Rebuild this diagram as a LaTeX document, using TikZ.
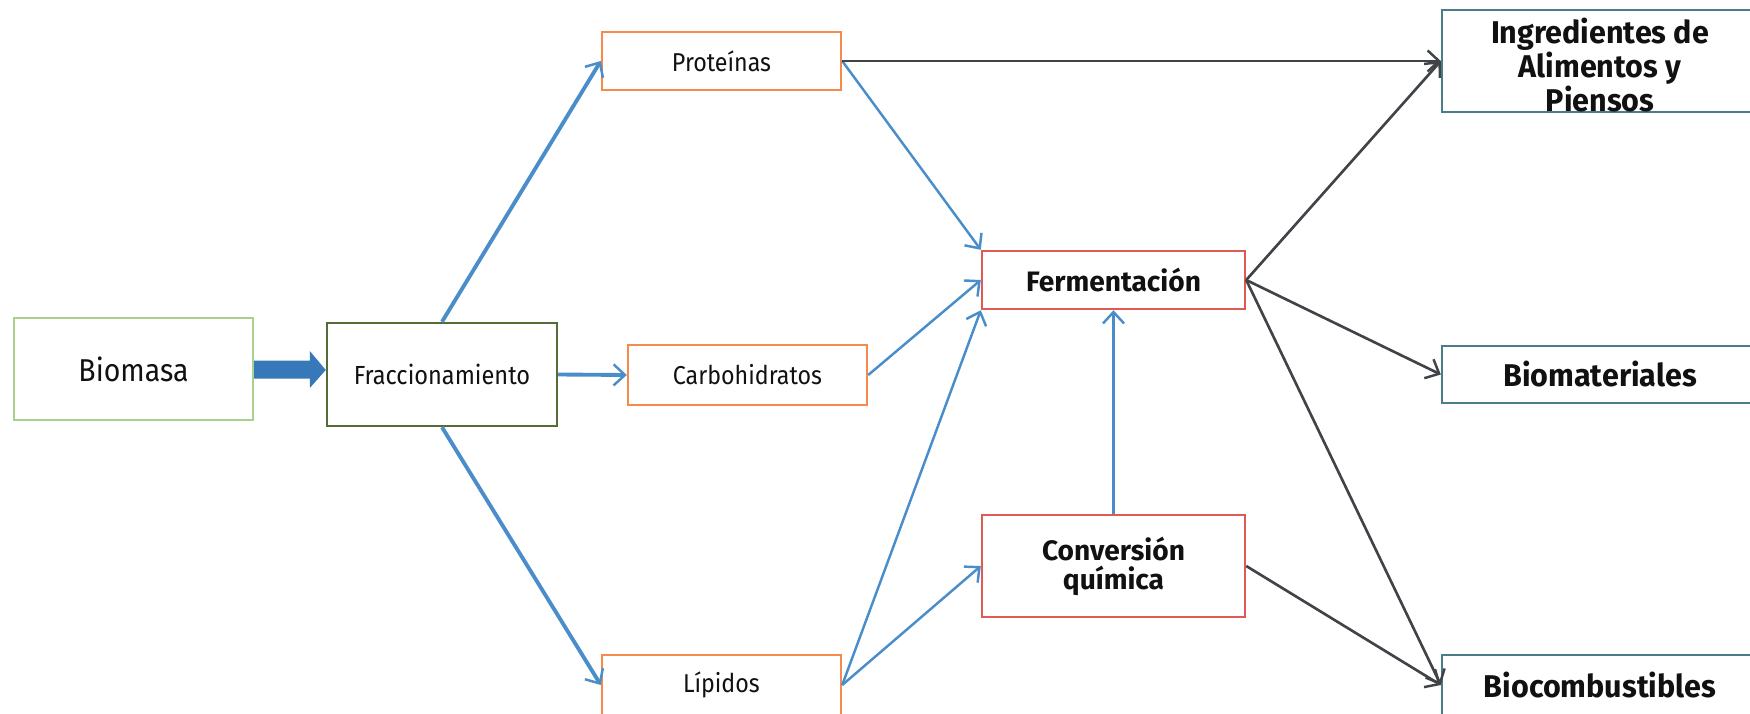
\documentclass[tikz,border=0pt]{standalone}
\usepackage{fontspec}
\setmainfont{Fira Sans}[FakeStretch=0.9]
\newfontfamily\procfont{Fira Sans}
\newfontfamily\prodfont{Fira Sans}[FakeStretch=0.97]
\usetikzlibrary{arrows.meta,calc}

\definecolor{bioGreen}{HTML}{A9D18E}
\definecolor{fracGreen}{HTML}{546B3A}
\definecolor{fracOrange}{HTML}{F58A4B}
\definecolor{procRed}{HTML}{E05A55}
\definecolor{prodTeal}{HTML}{4A7D88}
\definecolor{flowBlue}{HTML}{4A8DCB}
\definecolor{blockBlue}{HTML}{3778B8}
\definecolor{flowGray}{HTML}{404347}
\definecolor{txt}{HTML}{111111}

\begin{document}
\begin{tikzpicture}[x=0.02cm,y=-0.02cm,
  box/.style={draw,line width=1.4pt,fill=white,inner sep=0pt,align=center,text=txt},
  src/.style={box,draw=bioGreen,font=\fontsize{18}{20}\selectfont},
  frac/.style={box,draw=fracGreen,font=\fontsize{14.9}{18}\selectfont},
  part/.style={box,draw=fracOrange,font=\fontsize{14.7}{18}\selectfont},
  proc/.style={box,draw=procRed,font=\procfont\bfseries\fontsize{16}{16.4}\selectfont},
  prod/.style={box,draw=prodTeal,font=\prodfont\bfseries\fontsize{17.9}{19.5}\selectfont},
  prodtext/.style={inner sep=0pt,align=center,text=txt,font=\prodfont\bfseries\fontsize{17.9}{19.5}\selectfont},
  tip/.style={-{Straight Barb[length=6.5pt,width=12pt,line width=1.4pt]}},
  bluethick/.style={tip,draw=flowBlue,line width=2.2pt},
  bluethin/.style={tip,draw=flowBlue,line width=1.4pt},
  graythin/.style={tip,draw=flowGray,line width=1.5pt}
]
\useasboundingbox (0,0) rectangle (1750,713);

% boxes
\node[src,minimum width=4.78cm,minimum height=2.04cm] (bio) at (133.5,369) {Biomasa};
\node[frac,minimum width=4.60cm,minimum height=2.06cm] (frac) at (442,374.5) {Fraccionamiento};
\node[part,minimum width=4.78cm,minimum height=1.16cm] (prot) at (721.5,61) {Proteínas};
\node[part,minimum width=4.78cm,minimum height=1.20cm] (carb) at (747.5,375) {Carbohidratos};
\node[part,minimum width=4.78cm,minimum height=1.20cm] (lip) at (721.5,685) {Lípidos};
\node[proc,minimum width=5.26cm,minimum height=1.16cm] (ferm) at (1113.5,280) {Fermentación};
\node[proc,minimum width=5.26cm,minimum height=2.04cm] (conv) at (1113.5,566) {Conversión\\química};
\node[prod,minimum width=6.32cm,minimum height=2.04cm] (ing) at (1600,61) {};
\node[prodtext] (ingtext) at ($(ing.center)+(0,4)$) {Ingredientes de\\Alimentos y\\Piensos};
\node[prod,minimum width=6.32cm,minimum height=1.14cm] (biomat) at (1600,374.5) {Biomateriales};
\node[prod,minimum width=6.32cm,minimum height=1.20cm] (biocomb) at (1600,685) {Biocombustibles};

% block arrow from the raw material into fractionation
\fill[blockBlue] ($(bio.east)+(0,-8.5)$) -- ($(frac.west |- bio.east)+(-16,-8.5)$)
  -- ($(frac.west |- bio.east)+(-16,-18)$) -- ($(frac.west |- bio.east)+(0,1)$)
  -- ($(frac.west |- bio.east)+(-16,19)$) -- ($(frac.west |- bio.east)+(-16,9.5)$)
  -- ($(bio.east)+(0,9.5)$) -- cycle;

% fractions
\draw[bluethick] (frac.north) -- (prot.west);
\draw[bluethick] (frac.east) -- (carb.west);
\draw[bluethick] (frac.south) -- (lip.west);

% fractions into the processes
\draw[bluethin] (prot.east) -- (ferm.north west);
\draw[bluethin] (carb.east) -- (ferm.west);
\draw[bluethin] (lip.east) -- (ferm.south west);
\draw[bluethin] (lip.east) -- (conv.west);
\draw[bluethin] (conv.north) -- (ferm.south);

% products
\draw[graythin] (prot.east) -- (ing.west);
\draw[graythin] (ferm.east) -- (ing.west);
\draw[graythin] (ferm.east) -- (biomat.west);
\draw[graythin] (ferm.east) -- (biocomb.west);
\draw[graythin] (conv.east) -- (biocomb.west);
\end{tikzpicture}
\end{document}
